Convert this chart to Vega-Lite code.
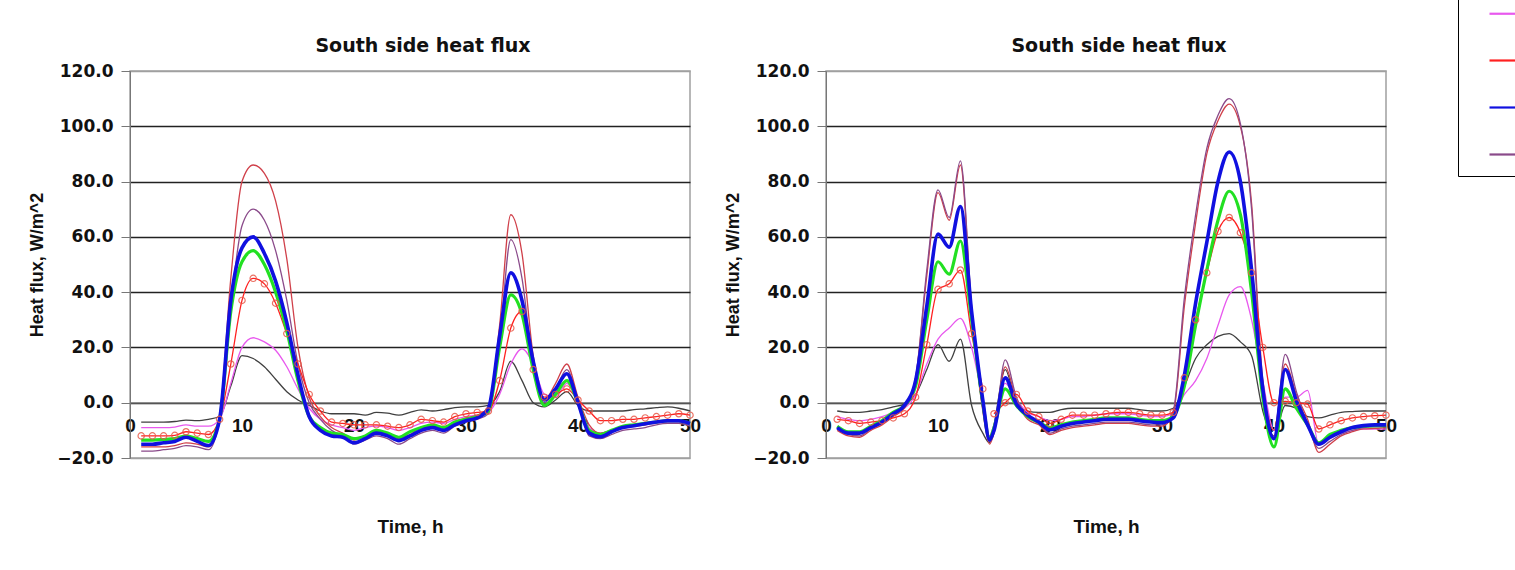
{
  "$schema": "https://vega.github.io/schema/vega-lite/v6.json",
  "padding": {"left": 28, "top": -18, "right": 0, "bottom": 0},
  "background": "white",
  "config": {
    "font": "DejaVu Sans",
    "view": {"stroke": "#a0a0a0", "strokeWidth": 1.5},
    "title": {"font": "DejaVu Sans", "fontSize": 19, "fontWeight": "bold", "color": "#111", "offset": 6, "dx": 13}
  },
  "datasets": {
    "left": [
      {"t":1,"S1":-7,"S2":-9,"S3":-12,"S4":-13.5,"S5":-15,"S6":-16,"S7":-17.5},
      {"t":2,"S1":-7,"S2":-9,"S3":-12,"S4":-13.5,"S5":-15,"S6":-16,"S7":-17.5},
      {"t":3,"S1":-7,"S2":-9,"S3":-12,"S4":-13.3,"S5":-14.5,"S6":-16,"S7":-17},
      {"t":4,"S1":-6.8,"S2":-8.8,"S3":-11.8,"S4":-13,"S5":-14,"S6":-15.5,"S7":-16.5},
      {"t":5,"S1":-6.3,"S2":-8,"S3":-10.5,"S4":-12,"S5":-12.5,"S6":-14.5,"S7":-15.5},
      {"t":6,"S1":-6.5,"S2":-8.5,"S3":-11,"S4":-13,"S5":-14,"S6":-15,"S7":-16},
      {"t":7,"S1":-6,"S2":-8.5,"S3":-11.5,"S4":-14,"S5":-15.5,"S6":-16,"S7":-17},
      {"t":8,"S1":-5,"S2":-6,"S3":-6,"S4":-6,"S5":-6,"S6":-5,"S7":-6},
      {"t":9,"S1":6,"S2":7,"S3":14,"S4":33,"S5":37,"S6":45,"S7":35},
      {"t":10,"S1":17,"S2":20,"S3":37,"S4":51,"S5":56,"S6":80,"S7":64},
      {"t":11,"S1":16,"S2":23.5,"S3":45,"S4":55,"S5":60,"S6":86,"S7":70},
      {"t":12,"S1":13,"S2":22,"S3":43,"S4":50,"S5":54,"S6":83,"S7":66},
      {"t":13,"S1":8.5,"S2":19,"S3":36,"S4":40,"S5":44,"S6":73,"S7":55},
      {"t":14,"S1":4,"S2":13,"S3":25,"S4":26,"S5":29,"S6":52,"S7":37},
      {"t":15,"S1":1,"S2":5,"S3":14,"S4":8,"S5":10,"S6":20,"S7":14},
      {"t":16,"S1":-1,"S2":-2,"S3":3,"S4":-5,"S5":-5,"S6":2,"S7":0},
      {"t":17,"S1":-3,"S2":-6,"S3":-3,"S4":-9,"S5":-10,"S6":-5,"S7":-6},
      {"t":18,"S1":-4,"S2":-8,"S3":-7,"S4":-11,"S5":-12,"S6":-9,"S7":-10},
      {"t":19,"S1":-4,"S2":-9,"S3":-7.5,"S4":-11.5,"S5":-12.5,"S6":-11,"S7":-12},
      {"t":20,"S1":-4,"S2":-10,"S3":-8,"S4":-13,"S5":-14.5,"S6":-13.5,"S7":-15},
      {"t":21,"S1":-4.5,"S2":-9,"S3":-8,"S4":-12,"S5":-13,"S6":-12,"S7":-13.5},
      {"t":22,"S1":-3.5,"S2":-8.5,"S3":-8,"S4":-10,"S5":-11,"S6":-11,"S7":-12},
      {"t":23,"S1":-3.8,"S2":-9,"S3":-8.5,"S4":-11,"S5":-12,"S6":-11.5,"S7":-13},
      {"t":24,"S1":-4.5,"S2":-10,"S3":-9,"S4":-12.5,"S5":-13.7,"S6":-13,"S7":-15},
      {"t":25,"S1":-3.5,"S2":-9,"S3":-8,"S4":-10.5,"S5":-12,"S6":-11.5,"S7":-13},
      {"t":26,"S1":-2.6,"S2":-7.5,"S3":-6,"S4":-9,"S5":-10,"S6":-9,"S7":-11},
      {"t":27,"S1":-3,"S2":-7,"S3":-6.5,"S4":-8,"S5":-9,"S6":-8.5,"S7":-10},
      {"t":28,"S1":-2.5,"S2":-7.5,"S3":-7,"S4":-9,"S5":-10,"S6":-9,"S7":-11},
      {"t":29,"S1":-1.8,"S2":-6,"S3":-5,"S4":-7,"S5":-8,"S6":-7,"S7":-8.5},
      {"t":30,"S1":-1.5,"S2":-5,"S3":-4,"S4":-6,"S5":-6.5,"S6":-5.5,"S7":-7},
      {"t":31,"S1":-1.5,"S2":-4.5,"S3":-3.5,"S4":-5,"S5":-5.5,"S6":-4.5,"S7":-6},
      {"t":32,"S1":-1,"S2":-3.5,"S3":-3,"S4":-3,"S5":-2,"S6":-2,"S7":-4},
      {"t":33,"S1":4,"S2":3,"S3":8,"S4":20,"S5":24,"S6":28,"S7":22},
      {"t":34,"S1":15,"S2":14,"S3":27,"S4":39,"S5":47,"S6":68,"S7":59},
      {"t":35,"S1":8,"S2":19.5,"S3":33,"S4":32,"S5":37,"S6":54,"S7":45},
      {"t":36,"S1":0,"S2":14,"S3":12,"S4":12,"S5":15,"S6":17,"S7":13},
      {"t":37,"S1":-1.5,"S2":3,"S3":2,"S4":-1,"S5":1,"S6":1,"S7":0},
      {"t":38,"S1":1,"S2":2,"S3":3,"S4":3,"S5":5,"S6":7,"S7":5},
      {"t":39,"S1":4,"S2":7,"S3":5,"S4":8,"S5":10.5,"S6":14,"S7":12},
      {"t":40,"S1":-1,"S2":0,"S3":1,"S4":0,"S5":0,"S6":2,"S7":1},
      {"t":41,"S1":-3,"S2":-9,"S3":-3,"S4":-10,"S5":-11,"S6":-8,"S7":-12},
      {"t":42,"S1":-3,"S2":-11,"S3":-6.5,"S4":-11.5,"S5":-12.3,"S6":-11,"S7":-13},
      {"t":43,"S1":-3,"S2":-10,"S3":-6.5,"S4":-10,"S5":-10.5,"S6":-10,"S7":-11.5},
      {"t":44,"S1":-3,"S2":-9,"S3":-6,"S4":-8.5,"S5":-9,"S6":-9,"S7":-10},
      {"t":45,"S1":-2.5,"S2":-8.5,"S3":-6,"S4":-8,"S5":-8.3,"S6":-8.5,"S7":-9.5},
      {"t":46,"S1":-2.2,"S2":-8,"S3":-5.5,"S4":-7.5,"S5":-7.6,"S6":-8,"S7":-9},
      {"t":47,"S1":-1.8,"S2":-7.5,"S3":-5,"S4":-7,"S5":-7,"S6":-7,"S7":-8},
      {"t":48,"S1":-1.5,"S2":-7,"S3":-4.5,"S4":-6.5,"S5":-6.5,"S6":-6.5,"S7":-7.5},
      {"t":49,"S1":-2,"S2":-7,"S3":-4,"S4":-6.5,"S5":-6.5,"S6":-6.5,"S7":-7.5},
      {"t":50,"S1":-3,"S2":-8,"S3":-4.5,"S4":-7.5,"S5":-7.5,"S6":-7,"S7":-8.5}
    ],
    "right": [
      {"t":1,"S1":-3,"S2":-5,"S3":-6,"S4":-8.5,"S5":-9,"S6":-10,"S7":-9.5},
      {"t":2,"S1":-3.5,"S2":-6,"S3":-6.5,"S4":-10.5,"S5":-11,"S6":-12,"S7":-11.5},
      {"t":3,"S1":-3.5,"S2":-6.5,"S3":-7.5,"S4":-10.5,"S5":-11,"S6":-12.5,"S7":-12},
      {"t":4,"S1":-3,"S2":-6,"S3":-7,"S4":-8.5,"S5":-9,"S6":-10,"S7":-9.5},
      {"t":5,"S1":-2.5,"S2":-5,"S3":-6.5,"S4":-6.5,"S5":-7,"S6":-8,"S7":-7.5},
      {"t":6,"S1":-1.5,"S2":-3.5,"S3":-5.5,"S4":-3.5,"S5":-4,"S6":-5,"S7":-4.5},
      {"t":7,"S1":-0.5,"S2":-2,"S3":-4,"S4":-1,"S5":-1,"S6":-2,"S7":-1.5},
      {"t":8,"S1":3,"S2":3,"S3":2,"S4":6,"S5":8,"S6":9,"S7":9},
      {"t":9,"S1":12,"S2":14,"S3":21,"S4":30,"S5":35,"S6":46,"S7":48},
      {"t":10,"S1":21,"S2":23,"S3":41,"S4":51,"S5":61,"S6":76,"S7":77},
      {"t":11,"S1":15,"S2":27,"S3":43,"S4":46.5,"S5":56.3,"S6":66,"S7":67},
      {"t":12,"S1":23,"S2":30.5,"S3":48,"S4":58.5,"S5":71,"S6":86,"S7":87.5},
      {"t":13,"S1":-1,"S2":20,"S3":25,"S4":30,"S5":33,"S6":34,"S7":35},
      {"t":14,"S1":-11,"S2":1,"S3":5,"S4":0,"S5":1,"S6":-3,"S7":-2},
      {"t":14.6,"S1":-14.5,"S2":-12,"S4":-13,"S5":-13.5,"S6":-15,"S7":-14},
      {"t":15,"S1":-8,"S2":-8,"S3":-4,"S4":-9,"S5":-10,"S6":-11,"S7":-11},
      {"t":16,"S1":12,"S2":7,"S3":0,"S4":5,"S5":9,"S6":13,"S7":15.5},
      {"t":17,"S1":0,"S2":1,"S3":3,"S4":-1,"S5":-0.5,"S6":1,"S7":2},
      {"t":18,"S1":-3,"S2":-3.5,"S3":-3,"S4":-5,"S5":-4.5,"S6":-6,"S7":-5},
      {"t":19,"S1":-3.5,"S2":-5,"S3":-5,"S4":-7,"S5":-7,"S6":-8,"S7":-7.5},
      {"t":20,"S1":-3.5,"S2":-6.5,"S3":-7.5,"S4":-9,"S5":-9.8,"S6":-11.5,"S7":-11},
      {"t":21,"S1":-2.5,"S2":-6,"S3":-6,"S4":-8,"S5":-8.5,"S6":-10,"S7":-9.5},
      {"t":22,"S1":-2,"S2":-5,"S3":-4.5,"S4":-7,"S5":-7.5,"S6":-9,"S7":-8.5},
      {"t":23,"S1":-2,"S2":-5,"S3":-4.5,"S4":-6.5,"S5":-7,"S6":-8.5,"S7":-8},
      {"t":24,"S1":-2,"S2":-4.5,"S3":-4.5,"S4":-6,"S5":-6.5,"S6":-8,"S7":-7.5},
      {"t":25,"S1":-2,"S2":-4,"S3":-4,"S4":-5.5,"S5":-6,"S6":-7.5,"S7":-7},
      {"t":26,"S1":-2,"S2":-4,"S3":-3.5,"S4":-5.5,"S5":-6,"S6":-7.5,"S7":-7},
      {"t":27,"S1":-2,"S2":-4,"S3":-3.5,"S4":-5.5,"S5":-6,"S6":-7.5,"S7":-7},
      {"t":28,"S1":-2.5,"S2":-4.5,"S3":-4,"S4":-6,"S5":-6.5,"S6":-8,"S7":-7.5},
      {"t":29,"S1":-3,"S2":-5,"S3":-4.5,"S4":-6.5,"S5":-7,"S6":-8.5,"S7":-8},
      {"t":30,"S1":-3,"S2":-5,"S3":-4.5,"S4":-6.5,"S5":-7.2,"S6":-8.5,"S7":-8},
      {"t":31,"S1":-2,"S2":-4,"S3":-3.5,"S4":-5,"S5":-5.5,"S6":-4,"S7":-3},
      {"t":32,"S1":6,"S2":3,"S3":9,"S4":6,"S5":10,"S6":35,"S7":38},
      {"t":33,"S1":16,"S2":8,"S3":30,"S4":28,"S5":36,"S6":65,"S7":68},
      {"t":34,"S1":21,"S2":16,"S3":47,"S4":48,"S5":58,"S6":90,"S7":92},
      {"t":35,"S1":24,"S2":28,"S3":62,"S4":66,"S5":80,"S6":102,"S7":104},
      {"t":36,"S1":25,"S2":39,"S3":67,"S4":76.5,"S5":90.7,"S6":108,"S7":110},
      {"t":37,"S1":22,"S2":42,"S3":61.5,"S4":68,"S5":80,"S6":100,"S7":101},
      {"t":38,"S1":17,"S2":30,"S3":47,"S4":40,"S5":48,"S6":72,"S7":70},
      {"t":39,"S1":-3,"S2":8,"S3":20,"S4":2,"S5":5,"S6":8,"S7":5},
      {"t":40,"S1":-12,"S2":-10,"S3":0,"S4":-16,"S5":-13,"S6":-10,"S7":-12},
      {"t":41,"S1":-1,"S2":2,"S3":0.5,"S4":5,"S5":12,"S6":14,"S7":17.5},
      {"t":42,"S1":-2,"S2":2,"S3":0,"S4":-2,"S5":0.7,"S6":3,"S7":4},
      {"t":43,"S1":-5,"S2":4.5,"S3":-0.5,"S4":-8,"S5":-8,"S6":-6,"S7":-8},
      {"t":44,"S1":-5.5,"S2":-15,"S3":-9.5,"S4":-14.5,"S5":-15,"S6":-18,"S7":-16.5},
      {"t":45,"S1":-4.5,"S2":-13,"S3":-8,"S4":-11.5,"S5":-12.5,"S6":-15,"S7":-14},
      {"t":46,"S1":-3.5,"S2":-11,"S3":-6.5,"S4":-10,"S5":-10.5,"S6":-12,"S7":-11.5},
      {"t":47,"S1":-3.2,"S2":-10,"S3":-5.5,"S4":-9,"S5":-9,"S6":-10.5,"S7":-10},
      {"t":48,"S1":-3,"S2":-9.5,"S3":-5,"S4":-8.5,"S5":-8.3,"S6":-9.5,"S7":-9},
      {"t":49,"S1":-3,"S2":-9.5,"S3":-4.7,"S4":-8.3,"S5":-8,"S6":-9.3,"S7":-8.7},
      {"t":50,"S1":-3,"S2":-9.5,"S3":-4.5,"S4":-8.3,"S5":-8,"S6":-9,"S7":-8.6}
    ]
  },
  "hconcat": [
    {
      "width": 560, "height": 387,
      "title": "South side heat flux",
      "data": {"name": "left"},
      "transform": [{"fold": ["S1","S2","S6","S7","S3","S4","S5"], "as": ["series","value"]}],
      "encoding": {
        "x": {"field": "t", "type": "quantitative", "scale": {"domain": [0, 50], "nice": false, "zero": false},
          "axis": {"title": "Time, h", "values": [0,10,20,30,40,50], "offset": -55.3, "grid": false, "ticks": false, "domainColor": "#555", "domainWidth": 1.5, "labelFont": "Liberation Sans", "labelFontSize": 19, "labelFontWeight": "bold", "labelColor": "#111", "labelPadding": 14, "labelFlush": false, "labelOverlap": false, "titleFont": "Liberation Sans", "titleFontSize": 19, "titleFontWeight": "bold", "titleColor": "#111", "titlePadding": 82}},
        "y": {"field": "value", "type": "quantitative", "scale": {"domain": [-20, 120], "nice": false, "zero": false},
          "axis": {"title": "Heat flux, W/m^2", "values": [-20,0,20,40,60,80,100,120], "format": ".1f", "grid": true,
            "gridColor": {"condition": {"test": "datum.value == 120 || datum.value == -20", "value": "#a0a0a0"}, "value": "#222"}, "gridWidth": 1.4,
            "domainColor": "#777", "tickColor": "#777", "tickSize": 9, "labelPadding": 8, "labelFont": "DejaVu Sans", "labelFontSize": 17, "labelFontWeight": "bold", "labelColor": "#111",
            "titleFont": "Liberation Sans", "titleFontSize": 18, "titleFontWeight": "bold", "titleColor": "#111", "titlePadding": 10}}
      },
      "layer": [
        {"mark": {"type": "line", "interpolate": "monotone"},
          "encoding": {
            "color": {"field": "series", "type": "nominal",
              "scale": {"domain": ["S2","S3","S5","S7","S1","S4","S6"], "range": ["#e858ee","#ff2020","#1010e0","#8a4a8a","#404040","#22e022","#d0404a"]},
              "legend": {"orient": "none", "legendX": 1328, "legendY": -88, "columns": 2, "direction": "vertical", "title": null, "strokeColor": "#000", "padding": 14, "symbolOffset": 16, "symbolType": "stroke", "symbolSize": 900, "symbolStrokeWidth": 2.2, "rowPadding": 23, "columnPadding": 40, "labelFontSize": 14, "labelColor": "#000"}},
            "strokeWidth": {"condition": [{"test": "datum.series === 'S5'", "value": 3.6}, {"test": "datum.series === 'S4'", "value": 3.2}], "value": 1.3}
          }},
        {"transform": [{"filter": "datum.series === 'S3' && datum.t % 1 === 0 && isValid(datum.value)"}],
          "mark": {"type": "point", "shape": "circle", "filled": false, "size": 40, "strokeWidth": 1.2, "color": "#e85a4a", "opacity": 0.85}}
      ]
    },
    {
      "width": 560, "height": 387,
      "title": "South side heat flux",
      "data": {"name": "right"},
      "transform": [{"fold": ["S1","S2","S6","S7","S3","S4","S5"], "as": ["series","value"]}],
      "encoding": {
        "x": {"field": "t", "type": "quantitative", "scale": {"domain": [0, 50], "nice": false, "zero": false},
          "axis": {"title": "Time, h", "values": [0,10,20,30,40,50], "offset": -55.3, "grid": false, "ticks": false, "domainColor": "#555", "domainWidth": 1.5, "labelFont": "Liberation Sans", "labelFontSize": 19, "labelFontWeight": "bold", "labelColor": "#111", "labelPadding": 14, "labelFlush": false, "labelOverlap": false, "titleFont": "Liberation Sans", "titleFontSize": 19, "titleFontWeight": "bold", "titleColor": "#111", "titlePadding": 82}},
        "y": {"field": "value", "type": "quantitative", "scale": {"domain": [-20, 120], "nice": false, "zero": false},
          "axis": {"title": "Heat flux, W/m^2", "values": [-20,0,20,40,60,80,100,120], "format": ".1f", "grid": true,
            "gridColor": {"condition": {"test": "datum.value == 120 || datum.value == -20", "value": "#a0a0a0"}, "value": "#222"}, "gridWidth": 1.4,
            "domainColor": "#777", "tickColor": "#777", "tickSize": 9, "labelPadding": 8, "labelFont": "DejaVu Sans", "labelFontSize": 17, "labelFontWeight": "bold", "labelColor": "#111",
            "titleFont": "Liberation Sans", "titleFontSize": 18, "titleFontWeight": "bold", "titleColor": "#111", "titlePadding": 10}}
      },
      "layer": [
        {"mark": {"type": "line", "interpolate": "monotone"},
          "encoding": {
            "color": {"field": "series", "type": "nominal"},
            "strokeWidth": {"condition": [{"test": "datum.series === 'S5'", "value": 3.6}, {"test": "datum.series === 'S4'", "value": 3.2}], "value": 1.3}
          }},
        {"transform": [{"filter": "datum.series === 'S3' && datum.t % 1 === 0 && isValid(datum.value)"}],
          "mark": {"type": "point", "shape": "circle", "filled": false, "size": 40, "strokeWidth": 1.2, "color": "#e85a4a", "opacity": 0.85}}
      ]
    }
  ],
  "spacing": 136,
  "bounds": "flush"
}
